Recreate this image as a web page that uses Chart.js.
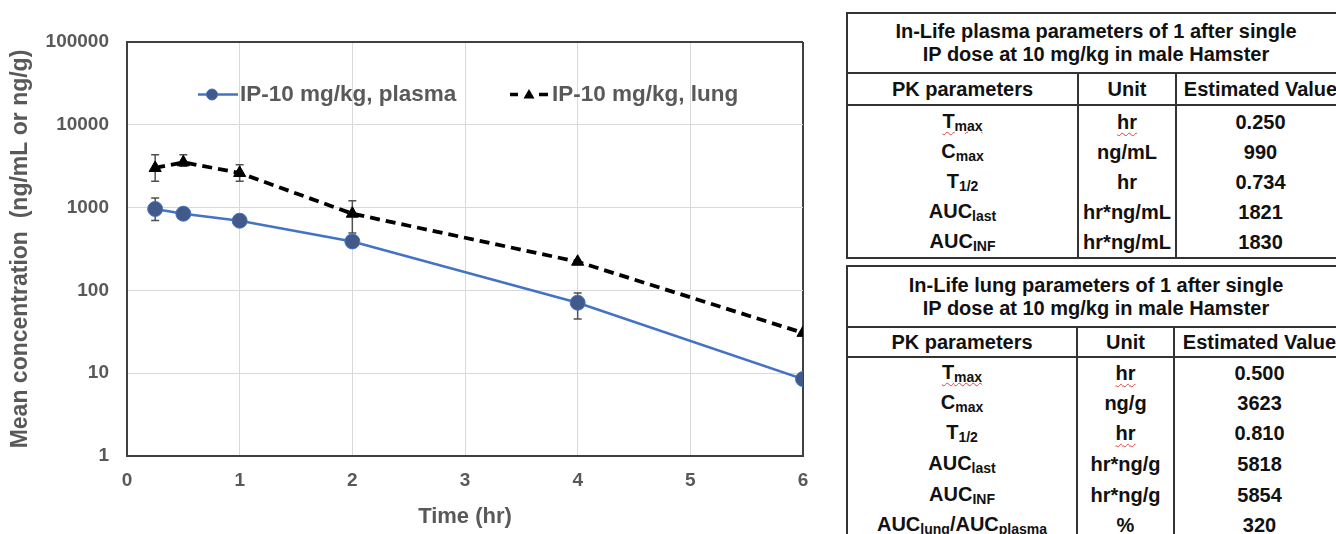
<!DOCTYPE html>
<html><head><meta charset="utf-8">
<script src="https://cdn.jsdelivr.net/npm/chart.js@4.4.0/dist/chart.umd.min.js"></script>
<style>
html,body{margin:0;padding:0;background:#fff;width:1336px;height:534px;overflow:hidden;font-family:"Liberation Sans",Arial,sans-serif;}
#wrap{position:absolute;left:0;top:0;width:840px;height:534px;}
.pk{position:absolute;left:846px;width:498px;border-collapse:collapse;table-layout:fixed;font-weight:bold;font-size:20px;color:#111;border:2px solid #333;}
.pk td{padding:0;text-align:center;white-space:nowrap;overflow:hidden;line-height:22px;}
.pk td.ttl{line-height:23px;border-bottom:2px solid #333;}
.pk tr.hd td{border-bottom:2px solid #333;}
.pk td.c1{border-right:2px solid #333;}
.pk td.c2{border-right:2px solid #333;}
.sb{font-size:14px;position:relative;top:3px;}
.sp{text-decoration:underline wavy #e04040;text-decoration-thickness:1px;text-underline-offset:3px;}
</style></head>
<body>
<div id="wrap"><canvas id="c"></canvas></div>

<table class="pk" style="top:12px">
<colgroup><col style="width:231px"><col style="width:98px"><col style="width:169px"></colgroup>
<tr><td class="ttl" colspan="3" style="height:58px">In-Life plasma parameters of 1 after single<br>IP dose at 10 mg/kg in male Hamster</td></tr>
<tr class="hd"><td class="c1" style="height:30px">PK parameters</td><td class="c2">Unit</td><td>Estimated Value</td></tr>
<tr><td class="c1" style="height:31px"><span class="sp">T<span class="sb">max</span></span></td><td class="c2"><span class="sp">hr</span></td><td>0.250</td></tr>
<tr><td class="c1" style="height:30px">C<span class="sb">max</span></td><td class="c2">ng/mL</td><td>990</td></tr>
<tr><td class="c1" style="height:30px">T<span class="sb">1/2</span></td><td class="c2">hr</td><td>0.734</td></tr>
<tr><td class="c1" style="height:30px">AUC<span class="sb">last</span></td><td class="c2">hr*ng/mL</td><td>1821</td></tr>
<tr><td class="c1" style="height:30px">AUC<span class="sb">INF</span></td><td class="c2">hr*ng/mL</td><td>1830</td></tr>
</table>

<table class="pk" style="top:265px">
<colgroup><col style="width:230px"><col style="width:97px"><col style="width:171px"></colgroup>
<tr><td class="ttl" colspan="3" style="height:59px">In-Life lung parameters of 1 after single<br>IP dose at 10 mg/kg in male Hamster</td></tr>
<tr class="hd"><td class="c1" style="height:28px">PK parameters</td><td class="c2">Unit</td><td>Estimated Value</td></tr>
<tr><td class="c1" style="height:30px"><span class="sp">T<span class="sb">max</span></span></td><td class="c2"><span class="sp">hr</span></td><td>0.500</td></tr>
<tr><td class="c1" style="height:30px">C<span class="sb">max</span></td><td class="c2">ng/g</td><td>3623</td></tr>
<tr><td class="c1" style="height:30px">T<span class="sb">1/2</span></td><td class="c2"><span class="sp">hr</span></td><td>0.810</td></tr>
<tr><td class="c1" style="height:31px">AUC<span class="sb">last</span></td><td class="c2">hr*ng/g</td><td>5818</td></tr>
<tr><td class="c1" style="height:31px">AUC<span class="sb">INF</span></td><td class="c2">hr*ng/g</td><td>5854</td></tr>
<tr><td class="c1" style="height:30px">AUC<span class="sb">lung</span>/AUC<span class="sb">plasma</span></td><td class="c2">%</td><td>320</td></tr>
</table>

<script>
// ---- data ----
const times = [0.25, 0.5, 1, 2, 4, 6];
const plasmaMean = [962, 844, 695, 390, 71, 8.5];
const plasmaHigh = [1306, null, null, null, 93, null];
const plasmaLow  = [700, null, null, null, 45, null];
const lungMean = [3013, 3523, 2620, 844, 222, 30.7];
const lungHigh = [4360, 4360, 3300, 1212, null, null];
const lungLow  = [2074, 3150, 2074, 493, null, null];
const seriesNames = ['IP-10 mg/kg, plasma', 'IP-10 mg/kg, lung'];
const xTicks = [0, 1, 2, 3, 4, 5, 6];
const yTicks = [1, 10, 100, 1000, 10000, 100000];
const yTickLabels = ['1', '10', '100', '1000', '10000', '100000'];

const FAM = '"Liberation Sans", Arial, sans-serif';
Chart.defaults.font.family = FAM;
const GRAY = '#595959';
const BLUE = '#4472C4';
const MARK = '#415a8a';
const EDGE = '#404040';

const errorBars = {
  id: 'errorBars',
  beforeDatasetsDraw(chart) {
    const {ctx, scales: {x, y}} = chart;
    const sets = [[plasmaHigh, plasmaLow, plasmaMean], [lungHigh, lungLow, lungMean]];
    ctx.save();
    ctx.strokeStyle = '#505050'; ctx.lineWidth = 1.5;
    sets.forEach(([hi, lo, mean]) => {
      times.forEach((t, i) => {
        const px = x.getPixelForValue(t);
        const pm = y.getPixelForValue(mean[i]);
        ctx.beginPath();
        [hi[i], lo[i]].forEach(v => {
          if (v == null) return;
          const p = y.getPixelForValue(v);
          ctx.moveTo(px, pm); ctx.lineTo(px, p); ctx.moveTo(px - 4, p); ctx.lineTo(px + 4, p);
        });
        ctx.stroke();
      });
    });
    ctx.restore();
  }
};

// legend drawn inside the plot area, next to the top edge
const inPlotLegend = {
  id: 'inPlotLegend',
  beforeDatasetsDraw(chart) {
    const {ctx, chartArea: a} = chart;
    const cy = a.top + 52.5;
    ctx.save();
    // plasma icon
    ctx.strokeStyle = BLUE; ctx.lineWidth = 2.5;
    ctx.beginPath(); ctx.moveTo(a.left + 71, cy); ctx.lineTo(a.left + 111, cy); ctx.stroke();
    ctx.beginPath(); ctx.arc(a.left + 85, cy, 5.5, 0, Math.PI * 2);
    ctx.fillStyle = MARK; ctx.fill(); ctx.lineWidth = 1; ctx.strokeStyle = BLUE; ctx.stroke();
    // lung icon
    ctx.strokeStyle = '#000'; ctx.lineWidth = 3.5;
    ctx.beginPath();
    ctx.moveTo(a.left + 383, cy); ctx.lineTo(a.left + 391, cy);
    ctx.moveTo(a.left + 412, cy); ctx.lineTo(a.left + 421, cy);
    ctx.stroke();
    ctx.fillStyle = '#000';
    ctx.beginPath(); ctx.moveTo(a.left + 402, cy - 5.5); ctx.lineTo(a.left + 407.5, cy + 4); ctx.lineTo(a.left + 396.5, cy + 4); ctx.closePath(); ctx.fill();
    // texts
    ctx.fillStyle = GRAY; ctx.font = 'bold 22.5px ' + FAM;
    ctx.textBaseline = 'middle'; ctx.textAlign = 'left';
    ctx.fillText(seriesNames[0], a.left + 113, cy);
    ctx.fillText(seriesNames[1], a.left + 425, cy);
    ctx.restore();
  }
};

new Chart(document.getElementById('c'), {
  type: 'line',
  data: {
    datasets: [
      {
        label: seriesNames[0],
        data: times.map((t, i) => ({x: t, y: plasmaMean[i]})),
        borderColor: BLUE, borderWidth: 2.5,
        pointStyle: 'circle', pointRadius: 7.5, pointBackgroundColor: MARK,
        pointBorderColor: BLUE, pointBorderWidth: 1, tension: 0
      },
      {
        label: seriesNames[1],
        data: times.map((t, i) => ({x: t, y: lungMean[i]})),
        borderColor: '#000', borderWidth: 3.8, borderDash: [10, 6],
        pointStyle: 'triangle', pointRadius: 7, pointBackgroundColor: '#000',
        pointBorderColor: '#000', pointBorderWidth: 1, tension: 0
      }
    ]
  },
  options: {
    responsive: true, maintainAspectRatio: false, animation: false,
    layout: {padding: {top: 42, right: 37, left: 0, bottom: 0}},
    plugins: {
      tooltip: {enabled: false},
      legend: {display: false}
    },
    scales: {
      x: {
        type: 'linear', min: 0, max: 6,
        afterBuildTicks: s => { s.ticks = xTicks.map(v => ({value: v})); },
        afterFit: s => { s.height = 78; },
        grid: {
          drawTicks: false,
          color: c => (c.tick && c.tick.value === 6) ? EDGE : '#d9d9d9',
          lineWidth: c => (c.tick && c.tick.value === 6) ? 2 : 1
        },
        border: {display: true, color: EDGE, width: 2},
        ticks: {color: GRAY, font: {size: 19, weight: 'bold'}, padding: 13},
        title: {display: true, text: 'Time (hr)', color: GRAY, font: {size: 22, weight: 'bold'}, padding: {top: 0, bottom: 4}}
      },
      y: {
        type: 'logarithmic', min: 1, max: 100000,
        afterBuildTicks: s => { s.ticks = yTicks.map(v => ({value: v})); },
        afterFit: s => { s.width = 127; },
        grid: {
          drawTicks: false,
          color: c => (c.tick && c.tick.value === 100000) ? EDGE : '#d9d9d9',
          lineWidth: c => (c.tick && c.tick.value === 100000) ? 2 : 1
        },
        border: {display: true, color: EDGE, width: 2},
        ticks: {color: GRAY, font: {size: 19, weight: 'bold'}, padding: 18,
          callback: (v, i) => yTickLabels[i]},
        title: {display: true, text: 'Mean concentration  (ng/mL or ng/g)', color: GRAY, font: {size: 23, weight: 'bold'}, padding: {top: 7, bottom: 0}}
      }
    }
  },
  plugins: [errorBars, inPlotLegend]
});
</script>
</body></html>
